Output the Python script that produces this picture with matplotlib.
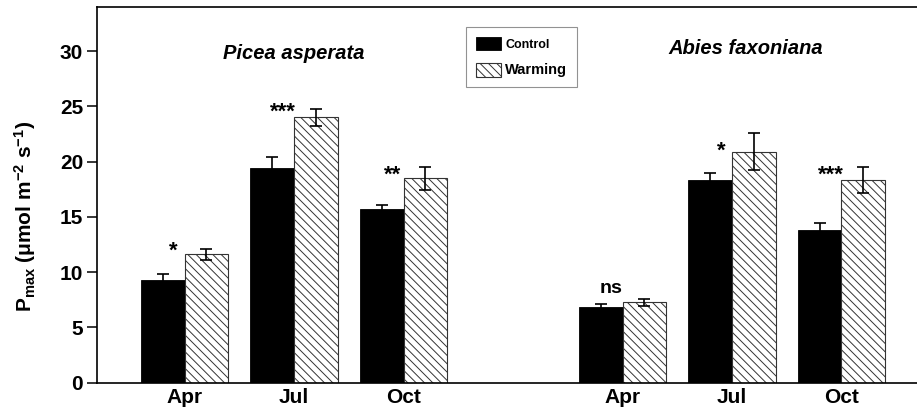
import matplotlib.pyplot as plt
import numpy as np

plt.rcParams['font.family'] = ['Liberation Sans', 'DejaVu Sans']
plt.rcParams['font.weight'] = 'bold'
plt.rcParams['mathtext.fontset'] = 'custom'
plt.rcParams['mathtext.rm'] = 'Liberation Sans:bold'
plt.rcParams['mathtext.bf'] = 'Liberation Sans:bold'
plt.rcParams['mathtext.default'] = 'bf'
plt.rcParams['hatch.linewidth'] = 0.7
plt.rcParams['hatch.color'] = '#444444'

months = ['Apr', 'Jul', 'Oct']
species = ['Picea asperata', 'Abies faxoniana']

# Pmax means and standard errors, Picea then Abies
control = [9.3, 19.4, 15.75, 6.8, 18.3, 13.8]
control_se = [0.55, 1.05, 0.35, 0.27, 0.7, 0.65]
warming = [11.6, 24.0, 18.5, 7.25, 20.9, 18.35]
warming_se = [0.5, 0.8, 1.05, 0.35, 1.65, 1.2]

sig = ['*', '***', '**', 'ns', '*', '***']
sig_y = [11.9, 24.5, 18.8, 8.5, 20.9, 18.8]

x = np.array([0, 1, 2, 4, 5, 6])
w = 0.4

fig = plt.figure(figsize=(9.17, 4.13), dpi=100)
ax = fig.add_axes([97 / 917, 1 - 382.5 / 413, (917 - 97) / 917, (382.5 - 7) / 413])

ax.bar(x - w / 2, control, w, color='black', edgecolor='black', linewidth=0.6,
       yerr=control_se, capsize=4, error_kw=dict(elinewidth=1.2, capthick=1.2, ecolor='black'),
       label='Control')
ax.bar(x + w / 2, warming, w, color='white', edgecolor='#333333', linewidth=0.8,
       hatch='\\\\\\\\', yerr=warming_se, capsize=4,
       error_kw=dict(elinewidth=1.2, capthick=1.2, ecolor='black'), label='Warming')

for xi, s, sy in zip(x, sig, sig_y):
    ax.text(xi - 0.1, sy, s, ha='center', va='center', fontsize=14 if s == 'ns' else 16,
            fontweight='bold')

ax.text(1, 29.8, species[0], ha='center', va='center', fontsize=14.5,
        fontweight='bold', style='italic')
ax.text(5.13, 30.25, species[1], ha='center', va='center', fontsize=14.5,
        fontweight='bold', style='italic')

ax.set_xlim(-0.8, 6.69)
ax.set_ylim(0, 34)
ax.set_yticks(range(0, 31, 5))
ax.set_xticks(x)
ax.set_xticklabels(months * 2, fontsize=15, fontweight='bold')
ax.tick_params(axis='x', length=0, pad=4)
ax.tick_params(axis='y', direction='out', length=7, width=1.1, labelsize=15, pad=3)
for lab in ax.get_yticklabels():
    lab.set_fontweight('bold')
for sp in ['left', 'bottom', 'top']:
    ax.spines[sp].set_linewidth(1.2)
ax.spines['right'].set_visible(False)

ax.set_ylabel(r'P$_{max}$ (μmol m$^{-2}$ s$^{-1}$)', fontsize=15, fontweight='bold')
ax.yaxis.set_label_coords(-0.072, 0.443)

leg = ax.legend(loc='upper left', bbox_to_anchor=(0.4505, 0.948), frameon=True,
                fancybox=False, edgecolor='#777777', fontsize=9, handlelength=2.0,
                handleheight=1.3, handletextpad=0.3, labelspacing=1.0,
                borderpad=0.8, borderaxespad=0)
leg.get_frame().set_linewidth(0.8)
leg.get_texts()[1].set_fontsize(10.5)

fig.savefig('out.png', dpi=100)
